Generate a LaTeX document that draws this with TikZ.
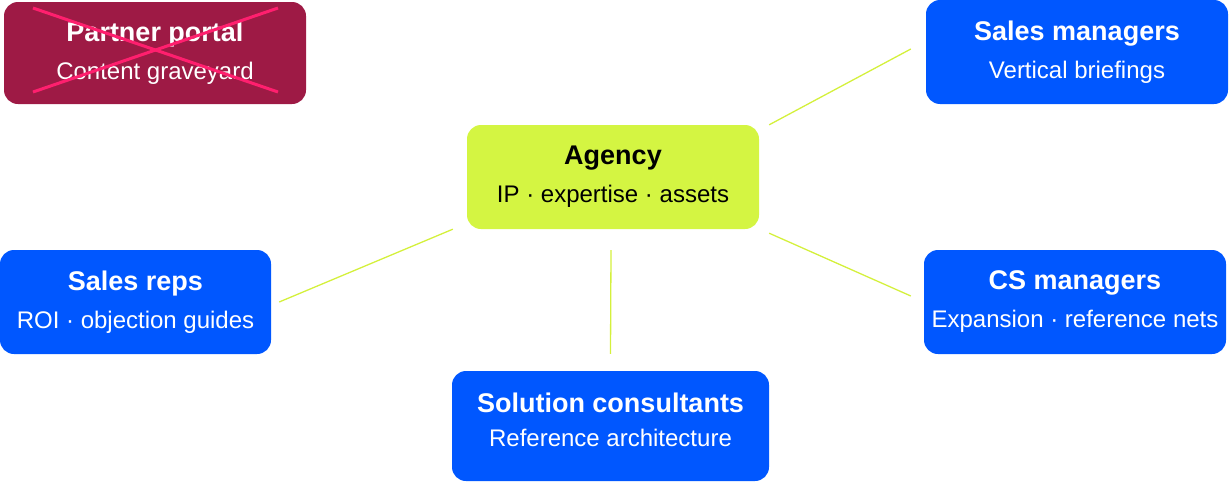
\documentclass[tikz,border=0pt]{standalone}
\usepackage{fontspec}
\setmainfont{Liberation Sans}
\usetikzlibrary{positioning}
\definecolor{roleblue}{HTML}{0057FF}
\definecolor{agencylime}{HTML}{D4F542}
\definecolor{portalred}{HTML}{9E1A45}
\definecolor{crosspink}{HTML}{FF1F6E}
\definecolor{linklime}{HTML}{D4F03C}
\newcommand{\boxtitle}[1]{{\fontsize{27}{38}\selectfont\bfseries #1}}
\begin{document}
\begin{tikzpicture}[x=1pt,y=-1pt]
\tikzset{
  box/.style={rounded corners=14pt,inner sep=0pt,align=center,
    font=\fontsize{24}{38}\selectfont,minimum height=104pt},
  rolebox/.style={box,fill=roleblue,text=white},
  hub/.style={box,fill=agencylime,text=black},
  deadbox/.style={box,fill=portalred,text=white},
  link/.style={linklime,line width=1.3pt},
  strike/.style={crosspink,line width=3pt}
}
\useasboundingbox (0,0) rectangle (1229,482);
\node[deadbox,minimum width=302pt,minimum height=102pt] (n_portal) at (155,53)
  {\boxtitle{Partner portal}\\Content graveyard};
\node[hub,minimum width=292pt] (n_agency) at (613,177)
  {\boxtitle{Agency}\\IP · expertise · assets};
\node[rolebox,minimum width=302pt] (n_salesmgr) at (1077,52)
  {\boxtitle{Sales managers}\\Vertical briefings};
\node[rolebox,minimum width=271pt] (n_reps) at (135.5,302)
  {\boxtitle{Sales reps}\\ROI · objection guides};
\node[rolebox,minimum width=302pt] (n_csmgr) at (1075,302)
  {\boxtitle{CS managers}\\Expansion · reference nets};
\node[rolebox,minimum width=317pt,minimum height=110pt,
  font=\fontsize{24}{34}\selectfont,text depth=13pt] (n_consult) at (610.5,426)
  {\boxtitle{Solution consultants}\\Reference architecture};
% links from the hub
\draw[link] ([xshift=10pt]n_agency.north east) -- ([xshift=-15pt,yshift=3pt]n_salesmgr.west);
\draw[link] ([xshift=-14pt]n_agency.south west) -- ([xshift=8pt]n_reps.east);
\draw[link] ([xshift=10pt,yshift=-4pt]n_agency.south east) -- ([xshift=-13pt,yshift=6pt]n_csmgr.west);
\draw[link] ([xshift=-2pt,yshift=-21pt]n_agency.south) -- ([yshift=17pt]n_consult.north);
% crossed out portal
\draw[strike] (33,8) -- (278,92);
\draw[strike] (33,92) -- (278,8);
\end{tikzpicture}
\end{document}
